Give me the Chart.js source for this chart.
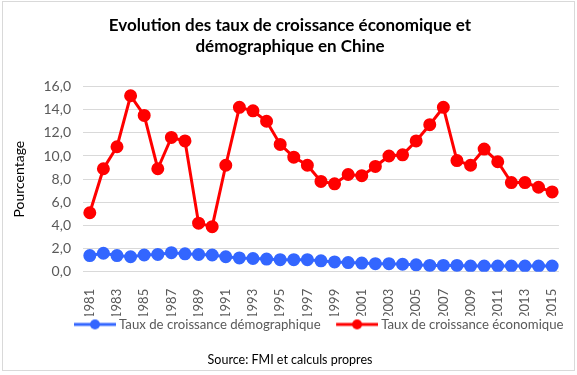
<!DOCTYPE html>
<html>
<head>
<meta charset="utf-8">
<script src="https://cdn.jsdelivr.net/npm/chart.js@4"></script>
<style>
  html, body { margin: 0; padding: 0; background: #fff; }
  #wrap { width: 577px; height: 375px; position: relative; }
</style>
</head>
<body>
<div id="wrap"><canvas id="croissance-chine" width="577" height="375"></canvas></div>
<script>
const years = ['1981','1982','1983','1984','1985','1986','1987','1988','1989','1990',
  '1991','1992','1993','1994','1995','1996','1997','1998','1999','2000',
  '2001','2002','2003','2004','2005','2006','2007','2008','2009','2010',
  '2011','2012','2013','2014','2015']

const croissance_demographique = [1.4, 1.6, 1.4, 1.3, 1.45, 1.5, 1.65, 1.55, 1.5, 1.45,
  1.3, 1.2, 1.15, 1.1, 1.05, 1.05, 1.05, 0.95, 0.85, 0.8,
  0.75, 0.7, 0.7, 0.65, 0.6, 0.55, 0.55, 0.55, 0.5, 0.5,
  0.5, 0.5, 0.5, 0.5, 0.5]

const croissance_economique = [5.1, 8.9, 10.8, 15.2, 13.5, 8.9, 11.6, 11.3, 4.2, 3.9,
  9.2, 14.2, 13.9, 13.0, 11.0, 9.9, 9.2, 7.8, 7.6, 8.4,
  8.3, 9.1, 10.0, 10.1, 11.3, 12.7, 14.2, 9.6, 9.2, 10.6,
  9.5, 7.7, 7.7, 7.3, 6.9]

const blue = '#3366ff'
const red = '#ff0000'
const grey_text = '#595959'
const font_family = 'Lato, "Open Sans", sans-serif'

// little line + dot picture for the legend (transparent margin on the left)
function legend_marker(color) {
  const c = document.createElement('canvas')
  c.width = 59
  c.height = 12
  const g = c.getContext('2d')
  g.strokeStyle = color
  g.lineWidth = 3
  g.beginPath()
  g.moveTo(17, 6)
  g.lineTo(59, 6)
  g.stroke()
  g.fillStyle = color
  g.beginPath()
  g.arc(38, 6, 5, 0, Math.PI * 2)
  g.fill()
  return c
}
const markers = [legend_marker(blue), legend_marker(red)]

const frame = {
  id: 'frame',
  beforeDraw(chart) {
    const ctx = chart.ctx
    ctx.save()
    ctx.fillStyle = '#fff'
    ctx.fillRect(0, 0, chart.width, chart.height)
    ctx.strokeStyle = '#d9d9d9'
    ctx.lineWidth = 1
    ctx.strokeRect(2.5, 1.5, 572, 369)
    ctx.restore()
  },
  afterLayout(chart) {
    // excel puts the legend a bit right of centre
    chart.legend.left += 22
    chart.legend.right += 22
  }
}

const ctx = document.getElementById('croissance-chine').getContext('2d')

new Chart(ctx, {
  type: 'line',
  data: {
    labels: years,
    datasets: [
      {
        label: 'Taux de croissance démographique',
        data: croissance_demographique,
        borderColor: blue,
        backgroundColor: blue,
        borderWidth: 3,
        pointRadius: 5,
        pointHoverRadius: 5,
        fill: false
      },
      {
        label: 'Taux de croissance économique',
        data: croissance_economique,
        borderColor: red,
        backgroundColor: red,
        borderWidth: 3,
        pointRadius: 5,
        pointHoverRadius: 5,
        fill: false
      }
    ]
  },
  options: {
    responsive: false,
    animation: false,
    layout: {
      padding: { left: 3, right: 0, top: 0, bottom: 4 }
    },
    scales: {
      x: {
        offset: true,
        grid: { display: false },
        border: { display: false },
        ticks: {
          autoSkip: false,
          minRotation: 90,
          maxRotation: 90,
          padding: 9,
          color: grey_text,
          font: { family: font_family, size: 13 },
          callback: function(val, index) {
            return index % 2 == 0 ? this.getLabelForValue(val) : ''
          }
        },
        afterFit(scale) { scale.height = 44 }
      },
      y: {
        min: 0,
        max: 16,
        border: { display: false },
        grid: { color: '#d9d9d9', drawTicks: false },
        ticks: {
          stepSize: 2,
          padding: 12,
          color: grey_text,
          font: { family: font_family, size: 14 },
          callback: (v) => v.toFixed(1).replace('.', ',')
        },
        title: {
          display: true,
          text: 'Pourcentage',
          color: '#000',
          font: { family: font_family, size: 14 },
          padding: { top: 8, bottom: 4 }
        },
        afterFit(scale) { scale.width = 80 }
      },
      // empty right margin
      y_right: {
        position: 'right',
        display: true,
        grid: { display: false },
        border: { display: false },
        ticks: { display: false },
        afterFit(scale) { scale.width = 18 }
      }
    },
    plugins: {
      title: {
        display: true,
        text: ['Evolution des taux de croissance économique et', 'démographique en Chine'],
        color: '#000',
        font: { family: font_family, size: 17, weight: 'bold', lineHeight: 1.25 },
        padding: { top: 15, bottom: 29 }
      },
      legend: {
        position: 'bottom',
        labels: {
          usePointStyle: true,
          pointStyleWidth: 52,
          color: grey_text,
          padding: 2,
          font: { family: font_family, size: 13.2 },
          generateLabels(chart) {
            const items = Chart.defaults.plugins.legend.labels.generateLabels(chart)
            items.forEach((item, i) => { item.pointStyle = markers[i] })
            return items
          }
        }
      },
      subtitle: {
        display: true,
        position: 'bottom',
        text: 'Source: FMI et calculs propres',
        color: '#000',
        font: { family: font_family, size: 12.5 },
        padding: { top: 11, bottom: 4 }
      },
      tooltip: { enabled: false }
    }
  },
  plugins: [frame]
})
</script>
</body>
</html>
